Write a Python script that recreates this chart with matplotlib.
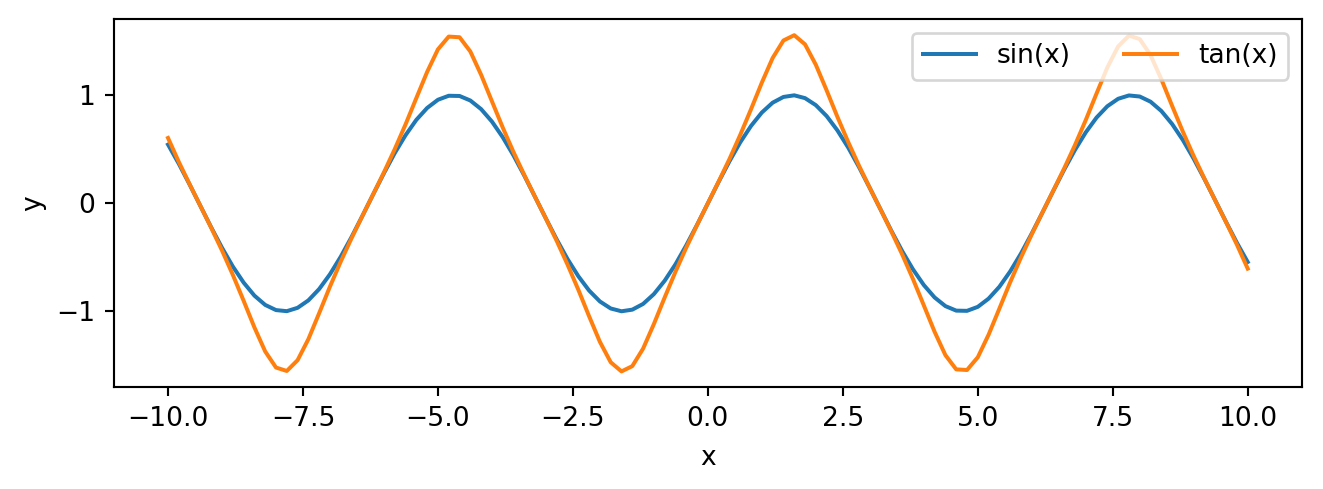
import matplotlib
matplotlib.use("Agg")
import matplotlib.pyplot as plt

x_vals = [-10.0, -9.8, -9.6, -9.4, -9.2, -9.0, -8.8, -8.6, -8.4, -8.2,
          -8.0, -7.8, -7.6, -7.4, -7.2, -7.0, -6.8, -6.6, -6.4, -6.2,
          -6.0, -5.8, -5.6, -5.4, -5.2, -5.0, -4.8, -4.6, -4.4, -4.2,
          -4.0, -3.8, -3.6, -3.4, -3.2, -3.0, -2.8, -2.6, -2.4, -2.2,
          -2.0, -1.8, -1.6, -1.4, -1.2, -1.0, -0.8, -0.6, -0.4, -0.2,
          0.0, 0.2, 0.4, 0.6, 0.8, 1.0, 1.2, 1.4, 1.6, 1.8,
          2.0, 2.2, 2.4, 2.6, 2.8, 3.0, 3.2, 3.4, 3.6, 3.8,
          4.0, 4.2, 4.4, 4.6, 4.8, 5.0, 5.2, 5.4, 5.6, 5.8,
          6.0, 6.2, 6.4, 6.6, 6.8, 7.0, 7.2, 7.4, 7.6, 7.8,
          8.0, 8.2, 8.4, 8.6, 8.8, 9.0, 9.2, 9.4, 9.6, 9.8, 10.0]

sin_vals = [0.544, 0.366, 0.174, -0.025, -0.223, -0.412, -0.585, -0.734, -0.855, -0.941,
            -0.989, -0.999, -0.968, -0.899, -0.794, -0.657, -0.494, -0.312, -0.117, 0.083,
            0.279, 0.465, 0.631, 0.773, 0.883, 0.959, 0.996, 0.994, 0.952, 0.872,
            0.757, 0.612, 0.443, 0.256, 0.058, -0.141, -0.335, -0.516, -0.675, -0.808,
            -0.909, -0.974, -1.000, -0.985, -0.932, -0.841, -0.717, -0.565, -0.389, -0.199,
            0.000, 0.199, 0.389, 0.565, 0.717, 0.841, 0.932, 0.985, 1.000, 0.974,
            0.909, 0.808, 0.675, 0.516, 0.335, 0.141, -0.058, -0.256, -0.443, -0.612,
            -0.757, -0.872, -0.952, -0.994, -0.996, -0.959, -0.883, -0.773, -0.631, -0.465,
            -0.279, -0.083, 0.117, 0.312, 0.494, 0.657, 0.794, 0.899, 0.968, 0.999,
            0.989, 0.941, 0.855, 0.734, 0.585, 0.412, 0.223, 0.025, -0.174, -0.366, -0.544]

tan_vals = [0.605, 0.383, 0.176, -0.025, -0.227, -0.437, -0.662, -0.902, -1.149, -1.372,
            -1.521, -1.553, -1.453, -1.258, -1.017, -0.771, -0.539, -0.323, -0.118, 0.083,
            0.287, 0.502, 0.731, 0.975, 1.217, 1.426, 1.544, 1.538, 1.406, 1.190,
            0.945, 0.702, 0.474, 0.262, 0.058, -0.142, -0.348, -0.567, -0.800, -1.046,
            -1.283, -1.472, -1.557, -1.508, -1.346, -1.118, -0.872, -0.634, -0.410, -0.202,
            0.000, 0.202, 0.410, 0.634, 0.872, 1.118, 1.346, 1.508, 1.557, 1.472,
            1.283, 1.046, 0.800, 0.567, 0.348, 0.142, -0.058, -0.262, -0.474, -0.702,
            -0.945, -1.190, -1.406, -1.538, -1.544, -1.426, -1.217, -0.975, -0.731, -0.502,
            -0.287, -0.083, 0.118, 0.323, 0.539, 0.771, 1.017, 1.258, 1.453, 1.553,
            1.521, 1.372, 1.149, 0.902, 0.662, 0.437, 0.227, 0.025, -0.176, -0.383, -0.605]

series_labels = ["sin(x)", "tan(x)"]

DPI = 191
fig = plt.figure(figsize=(1323 / DPI, 489 / DPI), dpi=DPI)
ax = fig.add_axes([0.0862, 0.208, 0.8977, 0.7525])
ax.plot(x_vals, sin_vals, color="#1f77b4", label=series_labels[0])
ax.plot(x_vals, tan_vals, color="#ff7f0e", label=series_labels[1])
ax.set_ylim(-1.704, 1.704)
ax.set_xlabel("x", labelpad=5)
ax.set_ylabel("y")
ax.legend(loc="upper right", ncol=2)
fig.savefig("out.png", dpi=DPI)
